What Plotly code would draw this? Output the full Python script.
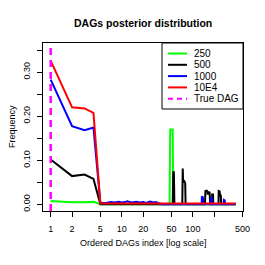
import plotly.graph_objects as go

# ---------------- data ----------------
series_names = ["250", "500", "1000", "10E4"]
series_colors = ["#00FF00", "#000000", "#0000FF", "#FF0000"]
true_dag_label = "True DAG"
true_dag_index = 1

green_idx = [1, 2, 3, 4, 5, 47, 48, 52, 53, 64, 65, 66, 400]
green_freq = [0.0075, 0.0045, 0.0045, 0.0055, 0.0, 0.0, 0.17, 0.17, 0.0, 0.0, 0.003, 0.0, 0.0]

black_idx = [1, 2, 3, 4, 5, 52, 53, 54, 55, 71, 72, 73, 76, 78, 79,
             148, 150, 156, 160, 162, 164, 172, 175, 186, 187, 192, 194,
             229, 231, 238, 241, 247, 250, 400]
black_freq = [0.1015, 0.064, 0.0675, 0.0575, 0.0, 0.0, 0.073, 0.073, 0.0, 0.0, 0.081, 0.05, 0.052, 0.048, 0.0,
              0.0, 0.030, 0.031, 0.029, 0.022, 0.028, 0.027, 0.0, 0.0, 0.022, 0.022, 0.0,
              0.0, 0.030, 0.029, 0.020, 0.020, 0.0, 0.0]

blue_idx = [1, 2, 3, 4, 5, 6, 7, 8, 9, 10, 11, 12, 13, 14, 16, 18, 20, 22, 25, 28, 30, 33, 36,
            133, 134, 138, 140, 178, 179, 185, 187, 271, 273, 280, 283, 400]
blue_freq = [0.283, 0.177, 0.168, 0.174, 0.003, 0.003, 0.005, 0.004, 0.006, 0.004, 0.005, 0.007, 0.005,
             0.004, 0.006, 0.004, 0.005, 0.003, 0.006, 0.004, 0.005, 0.003, 0.0,
             0.0, 0.018, 0.016, 0.0, 0.0, 0.015, 0.013, 0.0, 0.0, 0.010, 0.009, 0.0, 0.0]

red_idx = [1, 2, 3, 4, 5, 400]
red_freq = [0.326, 0.22, 0.2175, 0.2075, 0.002, 0.002]

x_tickvals = [1, 2, 5, 10, 20, 50, 100, 200, 500]
x_ticktext = ["1", "2", "5", "10", "20", "50", "100", "", "500"]
y_tickvals = [0.0, 0.05, 0.10, 0.15, 0.20, 0.25, 0.30, 0.35]
y_ticktext = ["0.00", "", "0.10", "", "0.20", "", "0.30", ""]

title_text = "<b>DAGs posterior distribution</b>"
x_title = "Ordered DAGs index [log scale]"
y_title = "Frequency"

# ---------------- layout geometry (pixels) ----------------
W, H = 265, 265
L, R, T, B = 43, 243, 43, 211
FONT = "Liberation Sans, Arial, Helvetica, sans-serif"


def px_x(p):
    return (p - L) / (R - L)


def px_y(p):
    return (B - p) / (B - T)


fig = go.Figure()
all_x = [green_idx, black_idx, blue_idx, red_idx]
all_y = [green_freq, black_freq, blue_freq, red_freq]
for name, col, xs, ys in zip(series_names, series_colors, all_x, all_y):
    fig.add_trace(go.Scatter(x=xs, y=ys, mode="lines", name=name,
                             line=dict(color=col, width=2), showlegend=False,
                             hoverinfo="skip"))

# true DAG vertical dashed line
fig.add_shape(type="line", xref="x", yref="paper", x0=true_dag_index, x1=true_dag_index,
              y0=0, y1=1, line=dict(color="#FF00FF", width=2.5, dash="7px,5px"))

# ---------------- manual legend ----------------
leg_left, leg_right, leg_top, leg_bottom = 162, 243, 43, 109
fig.add_shape(type="rect", xref="paper", yref="paper",
              x0=px_x(leg_left), x1=px_x(leg_right), y0=px_y(leg_bottom), y1=px_y(leg_top),
              line=dict(color="black", width=1), fillcolor="white", layer="above")
rows = [53.5, 64.8, 76.1, 87.4, 98.7]
labels = series_names + [true_dag_label]
colors = series_colors + ["#FF00FF"]
for i, (lab, col) in enumerate(zip(labels, colors)):
    py = rows[i]
    fig.add_shape(type="line", xref="paper", yref="paper",
                  x0=px_x(168), x1=px_x(187), y0=px_y(py), y1=px_y(py),
                  line=dict(color=col, width=2, dash="5px,4px" if i == 4 else "solid"),
                  layer="above")
    fig.add_annotation(xref="paper", yref="paper", x=px_x(192), y=px_y(py),
                       text=lab, showarrow=False, xanchor="left", yanchor="middle",
                       font=dict(size=10, color="black", family=FONT))

# titles
fig.add_annotation(xref="paper", yref="paper", x=0.5, y=px_y(22.5), text=title_text,
                   showarrow=False, xanchor="center", yanchor="middle",
                   font=dict(size=10.5, color="black", family=FONT))
fig.add_annotation(xref="paper", yref="paper", x=0.5, y=px_y(243), text=x_title,
                   showarrow=False, xanchor="center", yanchor="middle",
                   font=dict(size=9, color="black", family=FONT))
fig.add_annotation(xref="paper", yref="paper", x=px_x(12), y=px_y(127), text=y_title,
                   showarrow=False, xanchor="center", yanchor="middle", textangle=-90,
                   font=dict(size=9, color="black", family=FONT))

fig.update_layout(
    width=W, height=H, autosize=False,
    margin=dict(l=L, r=W - R, t=T, b=H - B, pad=0),
    paper_bgcolor="white", plot_bgcolor="white",
    font=dict(family=FONT, size=9, color="black"),
    showlegend=False,
)
fig.update_xaxes(type="log", range=[-0.108, 2.705], tickmode="array",
                 tickvals=x_tickvals, ticktext=x_ticktext, ticks="outside", ticklen=5,
                 tickcolor="black", showline=True, linecolor="black", linewidth=1,
                 mirror=True, showgrid=False, zeroline=False, ticklabelstandoff=4,
                 tickfont=dict(size=9))
fig.update_yaxes(range=[-0.0152, 0.366], tickmode="array", tickvals=y_tickvals,
                 ticktext=y_ticktext, ticks="outside", ticklen=5, tickcolor="black",
                 showline=True, linecolor="black", linewidth=1, mirror=True,
                 showgrid=False, zeroline=False, tickangle=-90, ticklabelstandoff=3,
                 tickfont=dict(size=9))

fig.write_html("out.html", config={"displayModeBar": False, "staticPlot": True},
               post_script="document.body.style.margin='0px';document.body.style.overflow='hidden';")
